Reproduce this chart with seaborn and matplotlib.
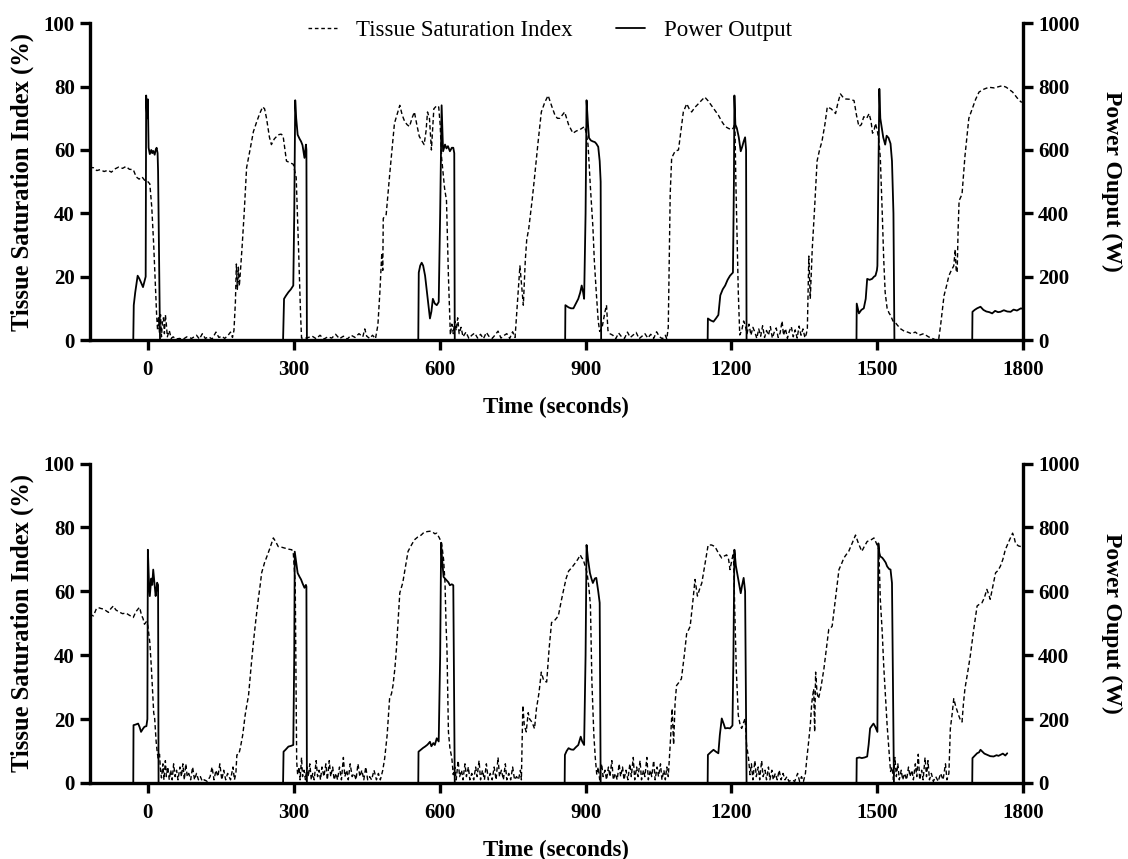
import numpy as np
import pandas as pd
import matplotlib
matplotlib.use("Agg")
import matplotlib.pyplot as plt
from matplotlib.lines import Line2D
import seaborn as sns

# ---------------- data ----------------
top_tsi_t = [-120, -112, -105, -98, -90, -82, -75, -68, -60, -52, -45, -38, -30, -24, -18, -12, -6, 0, 4, 8, 12, 16, 18, 20, 22, 24, 26, 28, 30, 32, 34, 36, 38, 40, 44, 48, 52, 58, 65, 72, 80, 90, 100, 106, 112, 118, 125, 132, 140, 146, 152, 158, 165, 170, 174, 177,
             180, 182, 184, 186, 188, 190, 194, 198, 203, 210, 217, 224, 230, 236, 240, 244, 250, 254, 260, 268, 274, 278, 282, 285, 292, 299, 305, 310, 314, 316,
             322, 330, 338, 346, 354, 362, 370, 378, 386, 394, 402, 410, 418, 426, 434, 442, 446, 450, 456, 462, 468,
             473, 477, 481, 483, 484, 490, 497, 502, 507, 512, 518, 523, 528, 533, 538, 543, 548, 553, 558, 563, 568, 572, 575, 579, 583, 588, 594, 598, 601, 604, 610, 614, 618, 622,
             625, 628, 631, 634, 637, 640, 644, 648, 654, 660, 666, 672, 678, 684, 690, 696, 702, 708, 714, 720, 726, 732, 738, 744, 750, 755,
             765, 768, 772, 776, 779, 783, 790, 795, 802, 809, 816, 823, 830, 837, 842, 847, 852, 857, 865, 874, 881, 888, 894, 898, 902, 905, 910, 915, 918, 922, 926, 929,
             934, 940, 943, 946, 950, 956, 962, 968, 974, 980, 986, 992, 998, 1004, 1010, 1016, 1022, 1028, 1034, 1040, 1046, 1052, 1058, 1064, 1067,
             1070, 1074, 1077, 1084, 1091, 1096, 1101, 1108, 1113, 1118, 1125, 1132, 1138, 1145, 1152, 1159, 1166, 1173, 1180, 1187, 1194, 1200, 1204, 1207, 1209, 1211, 1214, 1217,
             1221, 1225, 1228, 1232, 1236, 1240, 1244, 1248, 1252, 1256, 1260, 1264, 1268, 1272, 1276, 1280, 1284, 1288, 1292, 1296, 1300, 1304, 1307, 1311, 1315, 1319, 1323, 1327, 1331, 1335, 1339, 1343, 1347, 1351, 1354,
             1356, 1359, 1362, 1366, 1371, 1376, 1381, 1386, 1392, 1397, 1405, 1414, 1419, 1424, 1430, 1435, 1444, 1452, 1457, 1462, 1467, 1472, 1478, 1483, 1487, 1490, 1493, 1496, 1500, 1503, 1506, 1510, 1513, 1516, 1520, 1524, 1527,
             1532, 1537, 1541, 1548, 1555, 1562, 1570, 1578, 1586, 1595, 1605, 1613, 1620, 1626,
             1630, 1634, 1637, 1642, 1647, 1652, 1657, 1660, 1662, 1664, 1666, 1668, 1674, 1680, 1688, 1695, 1702, 1709, 1719, 1729, 1740, 1750, 1757, 1765, 1772, 1778, 1787, 1795, 1800]
top_tsi_v = [54.5, 54.4, 53.5, 53.8, 53.2, 53.6, 53.0, 54.0, 54.6, 54.2, 54.8, 53.9, 53.8, 51.5, 50.8, 51.5, 50.3, 50.0, 49.3, 42, 30, 15, 8, 3, 7, 2, 8, 1, 6, 7, 2, 8, 5, 1, 3, 0.5, 1, 0.3, 0.5, 0.2, 1, 0.5, 1.5, 0.3, 2, 0.5, 1, 0.3, 2.5, 0.8, 1.2, 0.5, 1.5, 2.5, 0.8, 3,
             12, 24, 16, 23, 17, 21, 30, 40, 54.4, 60, 65.8, 69, 71.5, 73.6, 73, 70, 64, 61.7, 63.5, 64.8, 65, 64.5, 60, 56.5, 56, 55.5, 51.3, 28, 8, 0.6,
             0.5, 0.8, 1.2, 0.4, 1.5, 0.3, 1.0, 0.6, 1.8, 0.4, 1.2, 0.3, 1.5, 0.8, 2.0, 1.0, 3.5, 1.2, 0.5, 1.5, 0.4,
             4.8, 15, 27.5, 22, 38.4, 39.6, 51.9, 60, 68.4, 71, 74.1, 71, 69, 68, 67.4, 70, 72, 68, 64.3, 63, 61.7, 66, 72, 70, 60, 73, 74, 73.6, 68, 57.5, 48, 44, 20, 1.6,
             5, 2, 6, 3, 7, 2, 4, 1, 2.5, 0.5, 1.5, 2.2, 0.6, 1.8, 0.4, 2.4, 1.0, 0.5, 1.6, 2.8, 0.6, 1.4, 2.0, 0.5, 2.6, 0.8,
             23.4, 18, 11, 25, 31.7, 35, 44, 51.3, 62, 72, 75, 77.2, 74, 71, 70, 70, 71, 72, 68, 65.3, 66, 66.4, 67, 67.4, 65, 61.7, 48, 35.8, 25, 15, 6, 2.7,
             4, 9, 11, 3, 2, 1.5, 0.4, 2.2, 1.0, 0.5, 2.5, 0.8, 1.6, 2.4, 0.4, 1.2, 2.0, 0.6, 1.8, 0.5, 2.6, 1.0, 0.4, 1.5, 0.3,
             4, 46.2, 57.5, 59.6, 60, 66, 72, 74.6, 73, 72, 73.5, 74.6, 75.6, 76.7, 75.5, 74, 72.5, 71, 69, 67.4, 66.8, 66.4, 67, 68.4, 50, 35.8, 15, 1.6,
             3, 6, 4.8, 2, 5, 1.5, 4, 2.5, 0.5, 3.5, 1.2, 4.5, 0.8, 3, 1.5, 4.2, 0.6, 2.5, 3.8, 0.8, 2.2, 6, 1.5, 3.6, 0.5, 2.8, 4.2, 1.0, 3.2, 0.6, 4.4, 1.5, 3.5, 0.7, 2.0,
             3.7, 26.5, 13, 28.6, 42, 56.5, 60, 62.7, 68, 73.6, 73, 71.5, 75, 77.7, 76.5, 76.1, 76, 75.6, 71, 67.4, 68, 70.5, 70, 71.5, 69, 65.3, 66, 68.4, 66, 63, 57.5, 40, 25.5, 15, 10, 8.5, 7.8,
             6, 5.5, 4.7, 3.5, 2.8, 2.5, 2, 2.5, 1.5, 2, 1, 0.5, 0, 0.2,
             4.7, 10, 14, 17, 20.3, 22, 23.4, 28.6, 22, 21.3, 35, 44, 46, 58, 70, 73, 76, 78.3, 79.2, 79.8, 79.6, 80, 80.3, 79.8, 79, 78.3, 76.5, 75.2, 75]

top_pow_t = [-30, -29, -26, -21, -18, -15, -10, -7, -4.5, -3.5, -1.5, 0, 1.5, 4, 7, 9, 11, 14, 16, 18, 20, 21, 25,
             278, 280, 284, 289, 294, 299, 301, 303, 305, 308, 312, 315, 318, 322, 325, 326, 327,
             556, 557, 560, 563, 566, 570, 574, 577, 580, 583, 586, 590, 594, 598, 601, 604, 607, 611, 614, 617, 621, 625, 628, 630, 631,
             858, 858.5, 865, 870, 875, 880, 885, 889, 892, 895, 897, 900, 902, 905, 907, 911, 915, 919, 922, 926, 929, 931, 932,
             1151, 1151.5, 1157, 1163, 1168, 1173, 1177, 1182, 1187, 1192, 1197, 1203, 1205, 1206, 1208, 1211, 1215, 1219, 1222, 1225, 1228, 1230, 1231,
             1457, 1457.5, 1462, 1467, 1472, 1476, 1479, 1484, 1489, 1493, 1496, 1499, 1500, 1502, 1504, 1506, 1509, 1512, 1516, 1519, 1523, 1527, 1530, 1533, 1535,
             1695, 1695.5, 1700, 1705, 1712, 1718, 1724, 1730, 1736, 1742, 1748, 1753, 1760, 1767, 1774, 1780, 1787, 1795, 1800]
top_pow_v = [0, 110, 150, 203, 195, 185, 167, 185, 200, 772, 700, 760, 607, 587, 600, 590, 597, 585, 600, 607, 590, 534, 0,
             0, 130, 140, 151, 160, 172, 400, 757, 700, 648, 635, 627, 615, 575, 617, 600, 0,
             0, 213, 235, 244, 235, 203, 150, 110, 68, 90, 130, 115, 110, 120, 400, 741, 596, 617, 605, 612, 596, 607, 607, 590, 0,
             0, 110, 103, 100, 100, 115, 130, 150, 172, 150, 130, 400, 757, 680, 638, 630, 627, 625, 620, 610, 565, 500, 0,
             0, 68, 62, 58, 68, 79, 141, 160, 172, 190, 203, 213, 500, 772, 680, 669, 640, 596, 610, 627, 640, 600, 0,
             0, 115, 84, 95, 100, 130, 193, 190, 193, 200, 203, 220, 234, 500, 793, 700, 669, 640, 617, 645, 638, 620, 565, 400, 0,
             0, 89, 95, 100, 105, 95, 90, 88, 84, 92, 88, 89, 94, 90, 89, 96, 93, 100, 98]

bot_tsi_t = [-120, -115, -112, -106, -102, -96, -90, -85, -81, -76, -71, -66, -60, -52, -45, -38, -30, -25, -20, -17, -13, -10, -7, -3, 0, 4, 7, 10, 12, 14, 17, 19, 21, 24, 26, 28,
             31, 33, 36, 38, 41, 44, 47, 50, 53, 56, 59, 62, 66, 69, 72, 75, 78, 81, 84, 88, 92, 96, 100, 104, 108, 112, 116, 122, 128, 132, 136, 140, 144, 148, 152, 156, 160, 164, 170, 175, 178, 181,
             183, 187, 190, 195, 200, 203, 207, 212, 217, 222, 227, 231, 234, 240, 245, 251, 258, 263, 268, 275, 282, 289, 296, 299, 303, 304, 306, 308,
             311, 313, 316, 318, 321, 324, 327, 330, 333, 336, 339, 342, 346, 349, 352, 355, 358, 362, 366, 369, 373, 376, 380, 383, 387, 390, 394, 398, 402, 405, 409, 412, 416, 420, 424, 428, 432, 436, 440, 444, 448, 452, 456, 460, 465, 470, 474, 478, 483,
             487, 492, 497, 501, 504, 508, 511, 515, 518, 524, 530, 535, 542, 548, 555, 562, 568, 575, 580, 586, 590, 594, 600, 604, 608, 611, 613, 615, 618, 621, 625, 628,
             631, 634, 638, 641, 645, 648, 652, 655, 659, 662, 666, 670, 674, 677, 681, 684, 688, 692, 696, 700, 704, 708, 712, 716, 720, 723, 727, 731, 735, 738, 742, 746, 750, 754, 758, 762, 766, 768,
             771, 774, 778, 782, 785, 790, 795, 799, 804, 809, 814, 820, 825, 830, 837, 844, 850, 855, 860, 865, 872, 879, 884, 889, 892, 895, 899, 903, 907, 910, 913, 917, 920, 923,
             926, 929, 933, 936, 940, 943, 947, 950, 954, 957, 961, 965, 969, 972, 976, 979, 983, 987, 991, 994, 998, 1001, 1005, 1008, 1012, 1015, 1019, 1022, 1026, 1029, 1033, 1036, 1040, 1043, 1047, 1050, 1054, 1057, 1061, 1064, 1067, 1070,
             1074, 1078, 1081, 1084, 1087, 1092, 1097, 1103, 1108, 1112, 1115, 1120, 1125, 1130, 1135, 1139, 1145, 1152, 1159, 1166, 1173, 1180, 1185, 1190, 1194, 1197, 1201, 1204, 1207, 1210, 1214, 1218, 1221, 1225, 1228, 1231, 1235, 1238,
             1241, 1244, 1248, 1251, 1255, 1258, 1262, 1265, 1269, 1272, 1276, 1279, 1283, 1286, 1290, 1294, 1298, 1302, 1306, 1310, 1314, 1318, 1324, 1330, 1336, 1340, 1344, 1348, 1352,
             1355, 1358, 1362, 1365, 1369, 1371, 1373, 1376, 1379, 1384, 1390, 1395, 1400, 1404, 1407, 1414, 1421, 1426, 1431, 1436, 1441, 1448, 1455, 1461, 1468, 1473, 1479, 1486, 1493, 1498, 1503, 1506, 1510, 1513, 1517, 1520, 1524, 1527,
             1530, 1533, 1536, 1539, 1542, 1545, 1549, 1552, 1556, 1560, 1564, 1567, 1571, 1574, 1578, 1581, 1584, 1587, 1591, 1594, 1598, 1601, 1604, 1607, 1611, 1615, 1620, 1625, 1630, 1635, 1640, 1643, 1647,
             1650, 1654, 1657, 1661, 1667, 1670, 1674, 1677, 1680, 1686, 1691, 1698, 1705, 1710, 1715, 1720, 1725, 1729, 1732, 1738, 1743, 1748, 1753, 1758, 1763, 1770, 1778, 1781, 1784, 1790, 1795, 1800]
bot_tsi_v = [52.3, 52.5, 52.3, 54.5, 54.9, 54.6, 54.4, 53.8, 53.4, 54.6, 55.4, 54.2, 53.6, 53.0, 53.2, 52.5, 51.8, 53.5, 54.5, 55.0, 52.5, 51.5, 49.7, 50.5, 49.2, 44, 36.7, 28, 22, 20.2, 13, 10, 7.8, 9, 4, 1.6,
             6, 1, 7, 2, 5, 1, 4, 1, 6, 2, 4, 1, 5, 2, 6, 1, 6, 2, 3, 1, 5, 1, 3, 1, 2, 0.5, 1, 0.5, 2, 5, 1, 4, 2, 6, 1, 4, 1, 3, 1, 5, 1, 3,
             8.8, 9, 10.9, 15, 21.2, 24, 27.4, 36, 44, 51, 57.5, 62, 65.8, 69, 71, 73.5, 76.7, 75.5, 74, 73.8, 73.5, 73.2, 73, 72, 62.6, 45, 6.7, 2.6,
             5, 1, 8, 2, 4, 1, 5, 2, 6, 1, 3, 1, 7, 2, 4, 1, 5, 2, 6, 1, 7, 2, 5, 1, 3, 1, 5, 1, 8, 2, 4, 1, 6, 2, 3, 1, 6, 2, 4, 1, 5, 1, 2, 1, 4, 1, 3, 1, 4,
             7.8, 15, 26.4, 28, 30.5, 36, 41.9, 52, 59.5, 62.6, 68, 72.5, 74.5, 76.1, 77, 77.6, 78.5, 78.7, 78.8, 78.5, 78, 78.2, 76.5, 75, 70, 62.6, 50, 41.9, 16, 11, 7.8, 2.6,
             5, 1, 7, 2, 4, 1, 6, 2, 5, 1, 3, 1, 5, 2, 7, 1, 4, 1, 6, 1, 3, 1, 5, 1, 8, 2, 4, 1, 6, 1, 3, 1, 5, 1, 2, 1, 4, 1,
             24.3, 18, 16, 22, 20, 19, 17, 23.3, 28, 34.7, 32, 31.6, 42, 50.2, 51, 52.3, 57, 60.6, 64, 66.3, 67.5, 68.9, 70, 71.4, 70.5, 70, 68, 65.8, 61, 55.4, 31.6, 15, 7.8, 2.6,
             5, 1, 6, 2, 4, 1, 5, 2, 7, 1, 3, 1, 6, 2, 5, 1, 4, 1, 6, 2, 8, 1, 5, 2, 7, 1, 4, 2, 8, 1, 4, 2, 7, 1, 5, 2, 6, 1, 4, 1, 5, 2,
             12, 23.3, 12, 25, 30.5, 31.5, 32.6, 40, 47, 48, 49, 56, 63.7, 58.5, 61, 62.6, 68, 74.5, 74.5, 74, 72, 70.4, 71, 71.4, 70, 66.8, 70, 72, 52.3, 35, 21.2, 18, 17.1, 19, 20.2, 12, 7.8, 2.6,
             6, 1, 7, 2, 5, 1, 7, 2, 4, 1, 5, 1, 4, 1, 3, 1, 4, 1, 3, 1, 2, 0.5, 1, 0.5, 3, 0.5, 2, 0.5, 3,
             7.8, 12, 18, 25, 29.5, 16, 34.7, 28, 26.4, 30, 35.7, 42, 48.1, 48.5, 49.1, 58, 66.8, 68.5, 70.4, 71.5, 72.5, 75, 77.6, 75, 72.5, 74, 75.6, 76, 76.7, 75, 73, 57.5, 47, 36.7, 26, 18.1, 10, 3.6,
             5, 1, 8, 2, 6, 1, 4, 1, 3, 1, 5, 2, 4, 1, 6, 2, 9, 1, 4, 1, 8, 2, 7, 1, 3, 0.5, 2, 0.5, 3, 1, 6, 1, 3,
             17, 22, 26.4, 24, 21.2, 20, 19.1, 25, 29.5, 35, 39.8, 48, 55.4, 56, 56.4, 58, 60.6, 59, 57.5, 62, 65.8, 66.5, 67.9, 70, 73, 75.5, 78.2, 77, 75, 74.2, 74, 74]

bot_pow_t = [-30, -29.5, -25, -20, -17, -14, -10, -7, -3, -1, 0, 2, 4, 7, 9, 11, 14, 16, 18, 19, 21, 22,
             278, 279, 283, 289, 294, 299, 301, 302, 305, 308, 312, 315, 318, 322, 325, 326, 327,
             556, 556.5, 562, 566, 570, 575, 580, 583, 587, 590, 594, 598, 601, 603, 605, 608, 611, 614, 618, 621, 625, 628, 631,
             857, 857.5, 861, 865, 870, 875, 880, 885, 888, 890, 893, 897, 900, 902, 905, 909, 912, 915, 919, 922, 926, 929, 931,
             1151, 1151.5, 1157, 1163, 1168, 1173, 1176, 1180, 1184, 1187, 1192, 1197, 1202, 1204, 1206, 1209, 1213, 1216, 1219, 1222, 1225, 1228, 1231,
             1457, 1457.5, 1463, 1468, 1474, 1479, 1482, 1485, 1489, 1492, 1496, 1500, 1502, 1504, 1506, 1510, 1513, 1517, 1520, 1524, 1527, 1530, 1534,
             1695, 1695.5, 1700, 1705, 1709, 1712, 1716, 1720, 1726, 1732, 1739, 1745, 1749, 1753, 1758, 1763, 1767]
bot_pow_v = [0, 181, 183, 186, 175, 160, 170, 176, 178, 200, 730, 640, 585, 640, 620, 668, 620, 585, 610, 627, 620, 0,
             0, 98, 104, 114, 116, 119, 400, 724, 690, 657, 645, 637, 625, 611, 620, 615, 0,
             0, 98, 105, 110, 114, 120, 129, 115, 125, 119, 140, 130, 400, 752, 700, 645, 640, 635, 628, 619, 622, 619, 0,
             0, 88, 100, 109, 105, 104, 112, 119, 135, 145, 130, 119, 400, 745, 700, 657, 640, 626, 640, 642, 600, 564, 0,
             0, 88, 96, 104, 98, 93, 150, 202, 185, 171, 172, 171, 180, 400, 730, 680, 645, 620, 594, 620, 642, 600, 0,
             0, 78, 80, 78, 80, 83, 120, 171, 180, 186, 175, 160, 750, 720, 709, 705, 699, 690, 678, 670, 668, 626, 0,
             0, 78, 85, 93, 96, 104, 98, 92, 88, 84, 83, 87, 85, 88, 92, 86, 93]

x_ticks = [0, 300, 600, 900, 1200, 1500, 1800]
tsi_ticks = [0, 20, 40, 60, 80, 100]
pow_ticks = [0, 200, 400, 600, 800, 1000]

# ---------------- style ----------------
sns.set_style("ticks")
plt.rcParams["font.family"] = ["Liberation Serif", "DejaVu Serif"]
plt.rcParams.update({
    "axes.edgecolor": "black", "xtick.color": "black", "ytick.color": "black",
    "text.color": "black", "axes.labelcolor": "black", "axes.linewidth": 2.4,
})

fig = plt.figure(figsize=(11.28, 8.59), dpi=100)
W, H = 1128.0, 859.0
x0, x1 = 89.5, 1023.3
panels = [
    (23.3, 340.0, top_tsi_t, top_tsi_v, top_pow_t, top_pow_v),
    (463.5, 783.0, bot_tsi_t, bot_tsi_v, bot_pow_t, bot_pow_v),
]
DASH = (0, (3.2, 2.0))

axes_list = []
for (ytop, ybot, tt, tv, pt, pv) in panels:
    ax = fig.add_axes([x0 / W, 1 - ybot / H, (x1 - x0) / W, (ybot - ytop) / H])
    ax2 = ax.twinx()
    df_t = pd.DataFrame({"t": tt, "v": tv})
    df_p = pd.DataFrame({"t": pt, "v": pv})
    sns.lineplot(data=df_t, x="t", y="v", ax=ax, color="black", linewidth=1.0,
                 linestyle=DASH, estimator=None, sort=False)
    sns.lineplot(data=df_p, x="t", y="v", ax=ax2, color="black", linewidth=1.3,
                 estimator=None, sort=False)
    ax.set_xlim(-120, 1800)
    ax.set_ylim(0, 100)
    ax2.set_ylim(0, 1000)
    ax.set_xticks(x_ticks)
    ax.set_yticks(tsi_ticks)
    ax2.set_yticks(pow_ticks)
    for a in (ax, ax2):
        a.spines["top"].set_visible(False)
        for s in a.spines.values():
            s.set_linewidth(2.4)
            s.set_color("black")
        a.tick_params(width=2.4, length=7, labelsize=15, pad=3.5, direction="out", colors="black")
        a.tick_params(axis="x", pad=7.5)
        for lab in a.get_xticklabels() + a.get_yticklabels():
            lab.set_fontweight("bold")
    ax.spines["right"].set_visible(False)
    ax2.spines["left"].set_visible(False)
    ax2.spines["bottom"].set_visible(False)
    ax.set_xlabel("Time (seconds)", fontsize=16.5, fontweight="bold", labelpad=12)
    ax.set_ylabel("Tissue Saturation Index (%)", fontsize=17.7, fontweight="bold")
    ax2.set_ylabel("Power Ouput (W)", fontsize=17, fontweight="bold", rotation=270)
    ax.yaxis.set_label_coords((22 - x0) / (x1 - x0), 0.5)
    ax2.yaxis.set_label_coords((1112 - x0) / (x1 - x0), 0.5)
    ax.yaxis.label.set_va("center")
    ax2.yaxis.label.set_va("center")
    axes_list.append(ax)

handles = [Line2D([], [], color="black", linewidth=1.0, linestyle=(0, (2.6, 2.0))),
           Line2D([], [], color="black", linewidth=1.3)]
axes_list[0].legend(handles, ["Tissue Saturation Index", "Power Output"],
                    loc="upper center", bbox_to_anchor=(0.493, 1.075), ncol=2, frameon=False,
                    fontsize=16.5, handlelength=1.25, columnspacing=1.9, handletextpad=0.83)

fig.savefig("out.png", dpi=100)
